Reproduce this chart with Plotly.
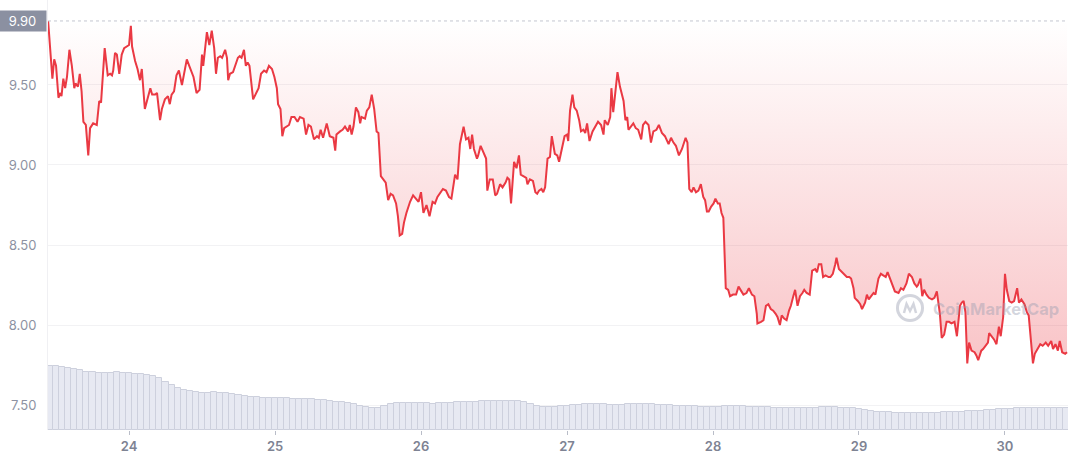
import pandas as pd
import plotly.graph_objects as go

BASE = pd.Timestamp("2023-04-23 00:00")

# hours since BASE, and price (USD)
HOURS = [
    10.7, 11.4, 11.7, 12.0, 12.4, 12.7, 12.9, 13.2, 13.5, 13.8,
    14.2, 14.6, 15.0, 15.2, 15.6, 15.9, 16.2, 16.5, 16.9, 17.3,
    17.6, 18.1, 18.7, 19.1, 19.4, 20.0, 20.5, 20.9, 21.2, 21.4,
    21.7, 22.0, 22.4, 22.8, 23.2, 23.6, 24.0, 24.3, 24.5, 25.0,
    25.4, 25.8, 26.1, 26.6, 27.1, 27.5, 27.8, 28.3, 28.6, 29.1,
    29.4, 29.9, 30.4, 30.7, 31.0, 31.4, 31.8, 32.2, 32.7, 33.1,
    33.5, 33.9, 34.2, 34.6, 35.1, 35.6, 36.0, 36.2, 36.8, 37.2,
    37.6, 38.0, 38.3, 38.6, 39.0, 39.3, 39.8, 40.1, 40.3, 40.6,
    41.1, 41.9, 42.2, 42.5, 42.9, 43.2, 43.5, 43.8, 44.4, 44.8,
    45.3, 45.7, 46.2, 46.6, 47.0, 47.5, 47.9, 48.3, 48.5, 48.9,
    49.2, 49.5, 49.9, 50.3, 50.7, 51.2, 51.7, 52.1, 52.7, 53.1,
    53.5, 53.9, 54.4, 54.9, 55.2, 55.5, 55.9, 56.5, 57.0, 57.6,
    57.9, 58.1, 58.7, 59.1, 59.5, 60.0, 60.3, 60.6, 60.9, 61.3,
    61.7, 62.0, 62.2, 62.8, 63.1, 63.5, 63.9, 64.3, 64.7, 65.0,
    65.4, 65.8, 66.2, 66.6, 67.0, 67.4, 67.9, 68.2, 68.5, 68.9,
    69.2, 69.6, 70.2, 70.7, 71.2, 71.6, 72.0, 72.4, 72.9, 73.4,
    73.9, 74.3, 74.7, 75.1, 75.6, 76.1, 76.6, 77.0, 77.6, 78.0,
    78.4, 79.0, 79.4, 79.8, 80.1, 80.4, 80.7, 81.2, 81.4, 81.8,
    82.2, 82.7, 82.9, 83.3, 83.8, 84.2, 84.5, 85.0, 85.4, 85.9,
    86.2, 86.5, 86.8, 87.3, 87.7, 88.1, 88.4, 88.8, 89.3, 89.5,
    89.9, 90.4, 90.8, 91.1, 91.4, 91.8, 92.1, 92.4, 92.8, 93.2,
    93.5, 94.0, 94.4, 94.7, 95.1, 95.6, 96.0, 96.2, 96.5, 96.9,
    97.2, 97.6, 98.0, 98.3, 98.7, 99.0, 99.3, 99.7, 100.2, 100.6,
    101.1, 101.6, 102.0, 102.2, 102.7, 103.1, 103.3, 103.6, 103.9, 104.3,
    104.7, 105.3, 105.6, 105.9, 106.1, 106.5, 106.9, 107.3, 107.7, 108.2,
    108.5, 108.9, 109.4, 109.8, 110.2, 110.7, 111.1, 111.6, 112.1, 112.7,
    113.1, 113.5, 113.9, 114.4, 114.9, 115.5, 115.8, 116.1, 116.5, 116.8,
    117.2, 117.6, 118.0, 118.4, 118.7, 119.0, 119.3, 119.7, 120.1, 120.4,
    120.8, 121.1, 121.4, 121.7, 122.0, 122.1, 122.5, 122.8, 123.3, 123.8,
    124.2, 124.6, 125.0, 125.5, 125.9, 126.4, 126.8, 127.2, 127.3, 127.9,
    128.3, 128.7, 129.1, 129.5, 129.9, 130.3, 130.6, 131.0, 131.3, 131.7,
    132.1, 132.5, 132.8, 133.2, 133.5, 133.9, 134.3, 134.7, 135.0, 135.4,
    135.9, 136.3, 136.8, 137.1, 137.4, 137.8, 138.1, 138.5, 139.0, 139.3,
    139.7, 140.1, 140.3, 140.7, 141.2, 141.6, 142.0, 142.4, 142.7, 143.1,
    143.3, 143.8, 144.2, 144.5, 145.0, 145.3, 145.6, 146.0, 146.4, 146.7,
    147.2, 147.6, 148.1, 148.4, 148.7, 149.1, 149.5, 149.9, 150.5, 150.9,
    151.3, 151.8, 152.2, 152.7, 153.1, 153.5, 153.7, 154.1, 154.4, 154.7,
    155.1, 155.5, 156.0, 156.4, 156.8, 157.0, 157.3, 157.6, 158.0, 158.4,
    158.8, 159.2, 159.7, 160.1, 160.3, 160.6, 160.9, 161.2, 161.5, 161.8,
    162.1, 162.5, 163.0, 163.3, 163.6, 164.1, 164.4, 164.8, 165.2, 165.4,
    165.8, 166.2, 166.6, 167.0, 167.3, 167.7, 168.0, 168.3, 168.7, 169.1,
    169.5, 170.0, 170.3, 170.7, 171.2, 171.6, 171.9, 172.3, 172.6, 172.9,
    173.4, 173.8, 174.2, 174.7, 175.1, 175.6, 175.9, 176.3, 176.7, 177.0,
    177.4, 177.9, 178.2,
]
PRICE = [
    9.90, 9.54, 9.66, 9.62, 9.42, 9.45, 9.43, 9.54, 9.48, 9.55,
    9.72, 9.62, 9.48, 9.51, 9.49, 9.57, 9.46, 9.27, 9.25, 9.06,
    9.23, 9.26, 9.25, 9.40, 9.39, 9.73, 9.56, 9.57, 9.56, 9.59,
    9.70, 9.69, 9.57, 9.69, 9.73, 9.74, 9.75, 9.87, 9.74, 9.65,
    9.60, 9.53, 9.60, 9.35, 9.42, 9.48, 9.44, 9.44, 9.45, 9.28,
    9.35, 9.41, 9.43, 9.38, 9.44, 9.46, 9.56, 9.59, 9.50, 9.57,
    9.66, 9.62, 9.59, 9.55, 9.45, 9.47, 9.69, 9.62, 9.83, 9.75,
    9.84, 9.73, 9.57, 9.67, 9.68, 9.67, 9.72, 9.67, 9.53, 9.57,
    9.58, 9.67, 9.68, 9.67, 9.72, 9.62, 9.64, 9.62, 9.41, 9.44,
    9.48, 9.57, 9.59, 9.58, 9.62, 9.60, 9.55, 9.48, 9.38, 9.35,
    9.18, 9.23, 9.24, 9.25, 9.30, 9.30, 9.27, 9.30, 9.29, 9.19,
    9.25, 9.24, 9.16, 9.18, 9.17, 9.22, 9.17, 9.26, 9.18, 9.17,
    9.09, 9.19, 9.21, 9.22, 9.24, 9.21, 9.25, 9.19, 9.24, 9.36,
    9.33, 9.26, 9.30, 9.29, 9.34, 9.36, 9.44, 9.35, 9.21, 9.20,
    8.93, 8.91, 8.89, 8.78, 8.82, 8.81, 8.76, 8.68, 8.56, 8.57,
    8.64, 8.70, 8.77, 8.81, 8.79, 8.77, 8.83, 8.70, 8.75, 8.68,
    8.77, 8.76, 8.80, 8.82, 8.85, 8.84, 8.80, 8.79, 8.94, 8.91,
    9.13, 9.24, 9.16, 9.17, 9.10, 9.19, 9.10, 9.04, 9.06, 9.12,
    9.08, 9.04, 8.84, 8.91, 8.91, 8.81, 8.82, 8.88, 8.86, 8.89,
    8.92, 8.91, 8.76, 9.02, 8.98, 9.06, 8.94, 8.93, 8.92, 8.88,
    8.91, 8.90, 8.83, 8.82, 8.84, 8.85, 8.83, 8.86, 9.04, 9.05,
    9.18, 9.07, 9.06, 9.02, 9.09, 9.18, 9.19, 9.15, 9.34, 9.44,
    9.36, 9.34, 9.28, 9.21, 9.22, 9.20, 9.26, 9.15, 9.21, 9.24,
    9.27, 9.25, 9.19, 9.28, 9.25, 9.30, 9.48, 9.33, 9.45, 9.58,
    9.49, 9.40, 9.28, 9.30, 9.22, 9.24, 9.26, 9.23, 9.22, 9.16,
    9.25, 9.27, 9.25, 9.14, 9.21, 9.22, 9.25, 9.20, 9.18, 9.13,
    9.17, 9.14, 9.12, 9.06, 9.10, 9.17, 9.14, 8.85, 8.83, 8.86,
    8.83, 8.84, 8.88, 8.80, 8.78, 8.71, 8.71, 8.74, 8.76, 8.79,
    8.76, 8.76, 8.70, 8.67, 8.41, 8.23, 8.22, 8.18, 8.19, 8.19,
    8.24, 8.21, 8.19, 8.20, 8.23, 8.19, 8.18, 8.07, 8.01, 8.02,
    8.03, 8.12, 8.13, 8.10, 8.09, 8.07, 8.05, 8.00, 8.06, 8.04,
    8.03, 8.09, 8.12, 8.18, 8.22, 8.12, 8.18, 8.20, 8.22, 8.20,
    8.19, 8.34, 8.35, 8.33, 8.38, 8.38, 8.30, 8.31, 8.30, 8.30,
    8.32, 8.38, 8.42, 8.35, 8.33, 8.31, 8.30, 8.30, 8.29, 8.23,
    8.17, 8.15, 8.13, 8.10, 8.14, 8.19, 8.16, 8.18, 8.20, 8.19,
    8.29, 8.32, 8.31, 8.30, 8.33, 8.29, 8.24, 8.21, 8.20, 8.23,
    8.22, 8.26, 8.32, 8.30, 8.26, 8.24, 8.25, 8.29, 8.18, 8.22,
    8.19, 8.17, 8.16, 8.17, 8.21, 8.15, 8.07, 7.92, 7.94, 8.02,
    8.02, 8.01, 8.02, 7.93, 8.00, 8.12, 8.14, 8.15, 8.08, 7.76,
    7.89, 7.84, 7.83, 7.81, 7.78, 7.84, 7.85, 7.87, 7.89, 7.95,
    7.93, 7.91, 7.88, 7.99, 7.93, 8.05, 8.32, 8.22, 8.15, 8.14,
    8.15, 8.23, 8.14, 8.16, 8.13, 8.08, 8.06, 7.89, 7.76, 7.82,
    7.85, 7.88, 7.87, 7.89, 7.87, 7.90, 7.85, 7.88, 7.84, 7.90,
    7.83, 7.82, 7.83,
]

# hourly 24h volume (USD millions), first bar at VOL_START_HOUR
VOL_START_HOUR = 11
VOLUME = [
    32.0, 31.8, 31.6, 31.0, 30.5, 29.8, 29.0, 28.8, 28.6, 28.5,
    28.6, 28.8, 28.7, 28.5, 28.2, 27.8, 27.4, 27.0, 25.8, 24.0,
    22.5, 21.0, 20.0, 19.3, 18.8, 18.5, 18.6, 18.8, 18.7, 18.5,
    18.0, 17.4, 17.0, 16.6, 16.4, 16.2, 16.1, 16.0, 15.9, 15.8,
    15.6, 15.5, 15.4, 15.3, 15.1, 15.0, 14.6, 14.2, 13.8, 13.5,
    12.8, 12.0, 11.4, 11.0, 11.0, 11.8, 12.8, 13.5, 13.6, 13.7,
    13.6, 13.5, 13.3, 13.2, 13.3, 13.5, 13.6, 13.8, 14.0, 14.0,
    14.2, 14.4, 14.5, 14.5, 14.6, 14.5, 14.6, 14.5, 14.0, 13.0,
    12.2, 11.5, 11.4, 11.6, 11.8, 12.0, 12.3, 12.6, 12.8, 13.0,
    12.9, 12.8, 12.7, 12.5, 12.6, 12.8, 13.0, 13.0, 12.9, 12.8,
    12.6, 12.5, 12.4, 12.2, 12.1, 12.0, 11.8, 11.6, 11.5, 11.5,
    11.6, 11.8, 12.0, 12.0, 11.8, 11.7, 11.6, 11.5, 11.4, 11.2,
    11.1, 11.0, 11.0, 11.1, 11.0, 11.0, 11.2, 11.4, 11.5, 11.5,
    11.2, 11.0, 10.8, 10.5, 10.0, 9.6, 9.2, 9.0, 8.8, 8.6,
    8.5, 8.5, 8.4, 8.4, 8.5, 8.5, 8.6, 8.8, 8.9, 9.0,
    9.2, 9.3, 9.4, 9.5, 9.8, 10.0, 10.3, 10.5, 10.7, 10.8,
    10.9, 11.0, 11.0, 11.0, 11.0, 11.0, 11.0, 11.0,
]

TOP_PRICE = 9.90
Y_TICKS = [7.5, 8.0, 8.5, 9.0, 9.5]
X_TICK_DAYS = [24, 25, 26, 27, 28, 29, 30]
X_START_HOUR, X_END_HOUR = 10.68, 178.36
Y_RANGE = [7.344, 10.031]
VOL_RANGE = [0, 215]

t = [BASE + pd.Timedelta(hours=h) for h in HOURS]
vt = pd.date_range(BASE + pd.Timedelta(hours=VOL_START_HOUR), periods=len(VOLUME), freq="h")
tick_t = [BASE + pd.Timedelta(days=d - 23) for d in X_TICK_DAYS]

RED = "#ea3943"
fig = go.Figure()
fig.add_trace(go.Bar(
    x=vt, y=VOLUME, yaxis="y2", hoverinfo="skip", showlegend=False,
    marker=dict(color="#e7e9f2", line=dict(color="#cdd0dd", width=1)),
))
fig.add_trace(go.Scatter(
    x=t, y=[TOP_PRICE] * len(t), mode="lines", line=dict(width=0, color="rgba(0,0,0,0)"),
    hoverinfo="skip", showlegend=False,
))
fig.add_trace(go.Scatter(
    x=t, y=PRICE, mode="lines", line=dict(color=RED, width=2),
    fill="tonexty",
    fillgradient=dict(type="vertical", start=7.75, stop=9.9,
                      colorscale=[[0, "rgba(234,57,67,0.30)"], [1, "rgba(234,57,67,0.0)"]]),
    showlegend=False,
))

fig.add_shape(type="line", xref="paper", x0=0, x1=1, yref="y", y0=TOP_PRICE, y1=TOP_PRICE,
              line=dict(color="#c4c7d0", width=1, dash="dot"))

fig.add_annotation(xref="paper", x=0, xanchor="right", xshift=-1, yref="y", y=TOP_PRICE,
                   text="9.90", showarrow=False, bgcolor="#8b90a1", width=45, height=18,
                   borderpad=1, font=dict(color="white", size=13, family="Inter"))

# watermark
WM = "rgba(150,156,175,0.42)"
fig.add_shape(type="circle", xref="paper", yref="paper",
              x0=0.8328, x1=0.8574, y0=0.2547, y1=0.3128,
              line=dict(color=WM, width=3))
fig.add_shape(type="path", xref="paper", yref="paper",
              path="M 0.8392 0.2721 L 0.8417 0.2930 L 0.8451 0.2767 L 0.8485 0.2930 L 0.8510 0.2721",
              line=dict(color=WM, width=2.5))
fig.add_annotation(xref="paper", yref="paper", x=0.929, y=0.281, xanchor="center", yanchor="middle",
                   text="CoinMarketCap", showarrow=False,
                   font=dict(color=WM, size=16.5, family="Inter", weight=700))

fig.update_layout(
    width=1068, height=460,
    margin=dict(l=48, r=0, t=0, b=30),
    paper_bgcolor="white", plot_bgcolor="white",
    bargap=0,
    xaxis=dict(
        type="date",
        range=[BASE + pd.Timedelta(hours=X_START_HOUR), BASE + pd.Timedelta(hours=X_END_HOUR)],
        tickvals=tick_t, ticktext=[str(d) for d in X_TICK_DAYS],
        ticks="outside", ticklen=4, tickcolor="#b9bdc8", showgrid=False, showline=False,
        zeroline=False,
        tickfont=dict(color="#7e8393", size=13, family="Inter", weight=600),
    ),
    yaxis=dict(
        range=Y_RANGE, tickvals=Y_TICKS, ticktext=[f"{v:.2f}" for v in Y_TICKS],
        showgrid=True, gridcolor="#f2f2f4", zeroline=False,
        showline=True, linecolor="#f0f0f3", ticks="", ticklabelstandoff=8,
        tickfont=dict(color="#8d92a2", size=13, family="Inter"),
    ),
    yaxis2=dict(range=VOL_RANGE, overlaying="y", visible=False),
)

fig.write_html("out.html", config={"displayModeBar": False},
               post_script="document.body.style.margin='0';document.body.style.overflow='hidden';")
